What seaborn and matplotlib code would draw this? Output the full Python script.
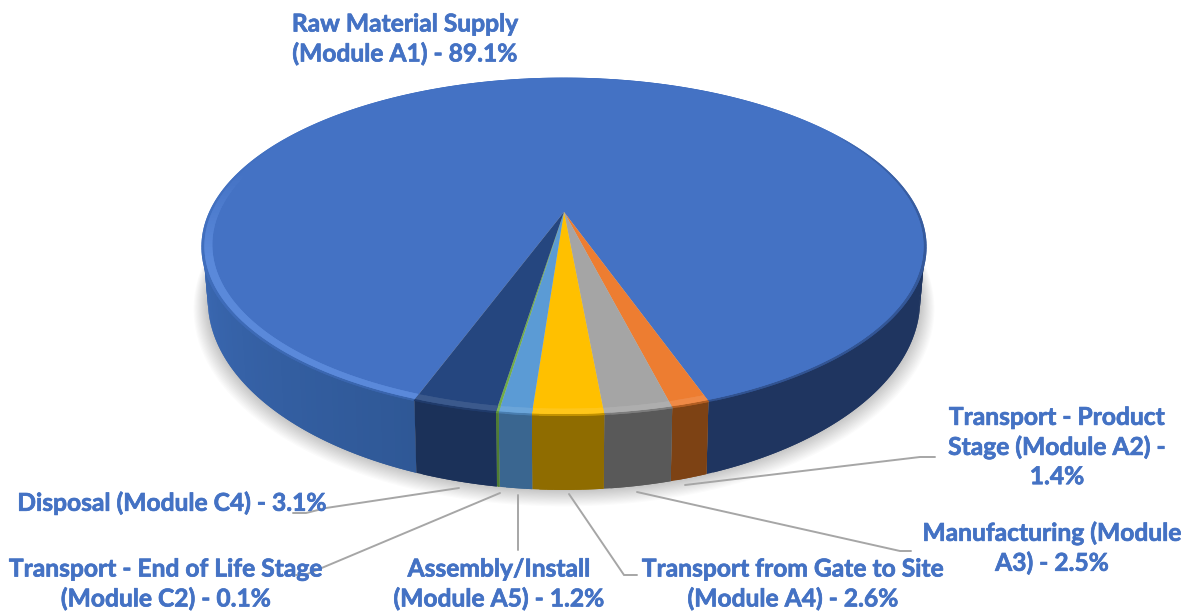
import matplotlib
matplotlib.use("Agg")
import matplotlib.pyplot as plt
import matplotlib.patheffects as pe
from matplotlib.collections import PolyCollection
from matplotlib.colors import to_rgb
from matplotlib.path import Path
from matplotlib.transforms import Affine2D, Transform
import numpy as np
import seaborn as sns

# share of each stage, clockwise from the big slice
stages = ["Raw Material Supply\n(Module A1) - 89.1%",
          "Transport - Product\nStage (Module A2) -\n1.4%",
          "Manufacturing (Module\nA3) - 2.5%",
          "Transport from Gate to Site\n(Module A4) - 2.6%",
          "Assembly/Install\n(Module A5) - 1.2%",
          "Transport - End of Life Stage\n(Module C2) - 0.1%",
          "Disposal (Module C4) - 3.1%"]
shares = [89.1, 1.4, 2.5, 2.6, 1.2, 0.1, 3.1]
top_colors = ["#4472c4", "#ed7d31", "#a5a5a5", "#ffc000", "#5b9bd5", "#70ad47", "#25467f"]
wall_colors = ["#1f3560", "#7d4214", "#595959", "#8f6c00", "#3a6690", "#4f7d33", "#1b3159"]
label_x = [405, 1057, 1052, 793, 499, 166, 172]
label_y = [39, 447, 548, 584, 584, 584, 503]
leaders = [[(685, 485), (920, 457), (935, 457)],
           [(637, 492), (900, 551), (911, 551)],
           [(569, 494), (624, 575), (637, 575)],
           [(518, 495), (518, 550)],
           [(500, 493), (305, 575), (296, 575)],
           [(459, 488), (326, 508), (306, 513), (293, 513)]]

TOP = dict(a=353.4, b=161.4, x0=564.0, y0=212.0)
BOTTOM = dict(a=348.6, b=182.0, x0=564.0, y0=261.0)
P = 0.205


def project(uv, a, b, x0, y0):
    # circle to tilted disc, the picture has some perspective
    uv = np.asarray(uv, dtype=float)
    w = 1 + P * uv[..., 1]
    return np.stack([x0 + a * uv[..., 0] / w, y0 - b * uv[..., 1] / w], axis=-1)


class Tilt(Transform):
    input_dims = 2
    output_dims = 2

    def transform_non_affine(self, values):
        return project(values, **TOP)

    def transform_path_non_affine(self, path):
        fine = path.transformed(Affine2D().scale(2000)).to_polygons(closed_only=False)[0] / 2000
        return Path(project(fine, **TOP))


def circle(theta, r=1.0):
    t = np.radians(theta)
    return np.stack([r * np.cos(t), r * np.sin(t)], axis=-1)


def mix(c1, c2, k):
    return tuple((1 - k) * np.array(to_rgb(c1)) + k * np.array(to_rgb(c2)))


def strips(ax, t1, t2, lower, upper, color_fn, z):
    # each strip runs on under the next one so no seams show
    steps = np.linspace(t1, t2, max(3, int(t2 - t1) + 2))
    polys, cols = [], []
    for i in range(len(steps) - 1):
        th = np.linspace(steps[i], steps[min(i + 2, len(steps) - 1)], 4)
        polys.append(np.vstack([lower(th), upper(th)[::-1]]))
        cols.append(color_fn((steps[i] + steps[i + 1]) / 2))
    ax.add_collection(PolyCollection(polys, facecolors=cols, linewidths=0, zorder=z))


sns.set_theme(style="white")
fig = plt.figure(figsize=(11.88, 6.16), dpi=100)
ax = fig.add_axes([0, 0, 1, 1])

wedges, _ = ax.pie(shares, colors=sns.color_palette(top_colors), startangle=250.0,
                   counterclock=False, frame=True, wedgeprops={"linewidth": 0, "zorder": 5})
tilt = Tilt()
for w in wedges:
    w.set_transform(tilt + ax.transData)
ax.set_aspect("auto")
ax.set_xlim(0, 1188)
ax.set_ylim(616, 0)
ax.axis("off")

# soft shadow under the disc
th = np.linspace(0, 360, 361)
for i in range(14, 0, -1):
    b = dict(BOTTOM)
    b["a"] += i * 1.0
    b["b"] += i * 0.5
    b["y0"] += i * 0.55
    ax.fill(*project(circle(th), **b).T, color="black", alpha=0.016, lw=0, zorder=1)

# side wall and rim, slice by slice
for w, top_c, wall_c in zip(wedges, top_colors, wall_colors):
    t1, t2 = sorted([w.theta1, w.theta2])
    is_big = t2 - t1 > 180

    def wall_color(t, wall_c=wall_c, is_big=is_big):
        if is_big and t > 90:
            return mix("#3d6cb9", "#2f5896", np.clip((t - 180) / 70, 0, 1))
        return to_rgb(wall_c)

    def rim_color(t, top_c=top_c, is_big=is_big):
        if not is_big:
            return mix(top_c, "#ffffff", 0.1)
        # highlight only along the front left
        return mix(top_c, "#6f9ff0", 0.5 * np.clip((t - 165) / 30, 0, 1))

    def edge_color(t, top_c=top_c, wall_c=wall_color):
        # the back of the disc has no visible edge
        k = 0.55 * np.clip(1 - abs(t - 270 if t > 90 else t + 90) / 120, 0, 1) ** 0.3
        return mix(top_c, wall_c(t), k)

    strips(ax, t1, t2, lambda a: project(circle(a), **BOTTOM), lambda a: project(circle(a), **TOP),
           wall_color, 2)
    strips(ax, t1, t2, lambda a: project(circle(a, 0.996), **TOP), lambda a: project(circle(a, 1.004), **TOP),
           edge_color, 6)
    strips(ax, t1, t2, lambda a: project(circle(a, 0.975), **TOP), lambda a: project(circle(a, 0.996), **TOP),
           rim_color, 6)

for pts in leaders:
    xs, ys = zip(*pts)
    ax.plot(xs, ys, color="#a6a6a6", lw=1.4, zorder=7, solid_joinstyle="miter")

for name, x, y in zip(stages, label_x, label_y):
    ax.text(x, y, name, ha="center", va="center", color="#4472c4", fontsize=17.7,
            fontweight="bold", family="Lato", linespacing=1.33, zorder=8,
            path_effects=[pe.withStroke(linewidth=0.5, foreground="#4472c4")])

fig.savefig("out.png", dpi=100)
